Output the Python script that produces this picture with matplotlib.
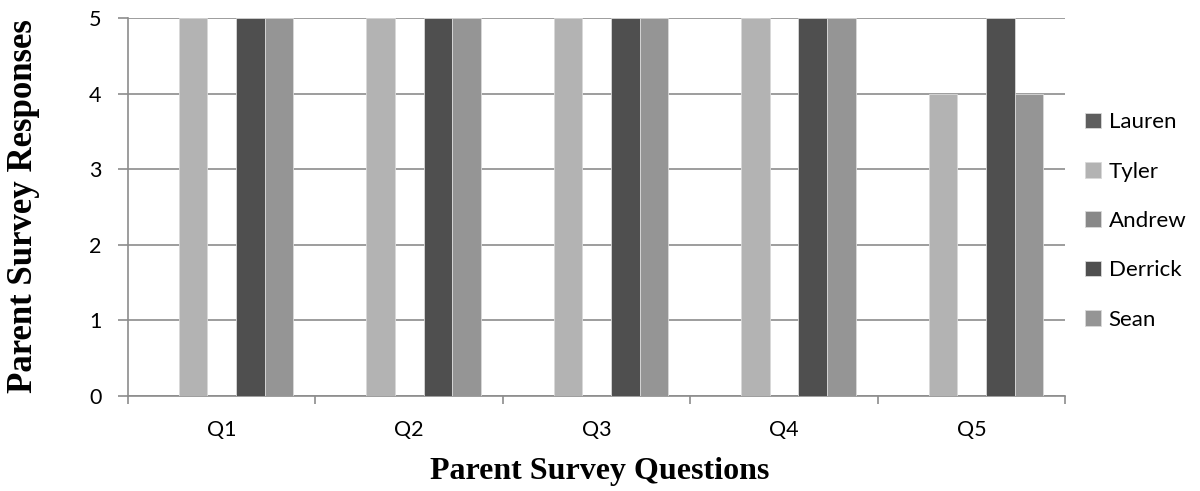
import numpy as np
import matplotlib
matplotlib.use("Agg")
import matplotlib.pyplot as plt
from matplotlib.ticker import FixedLocator, NullFormatter

questions = ["Q1", "Q2", "Q3", "Q4", "Q5"]
students = ["Lauren", "Tyler", "Andrew", "Derrick", "Sean"]
lauren = [0, 0, 0, 0, 0]
tyler = [5, 5, 5, 5, 4]
andrew = [0, 0, 0, 0, 0]
derrick = [5, 5, 5, 5, 5]
sean = [5, 5, 5, 5, 4]
colors = ["#5e5e5e", "#b3b3b3", "#888888", "#4f4f4f", "#959595"]

series = [lauren, tyler, andrew, derrick, sean]
SANS = "Lato"
SERIF = "Liberation Serif"
AXC = "#8c8c8c"

fig = plt.figure(figsize=(12, 4.91), dpi=100)
ax = fig.add_axes([0.1067, 0.1935, 0.781, 0.770])

x = np.arange(len(questions))
w = 0.153
for i, (name, vals, c) in enumerate(zip(students, series, colors)):
    ax.bar(x + (i - 2) * w, vals, width=w, color=c, label=name,
           edgecolor="#d9d9d9", lw=0.6, zorder=3)

ax.set_xlim(-0.5, len(questions) - 0.5)
ax.set_ylim(0, 5)
ax.set_yticks(range(6))
ax.yaxis.grid(True, color=AXC, lw=1.2, zorder=0)

ax.set_xticks(x)
ax.set_xticklabels(questions, fontsize=15.5, family=SANS)
ax.tick_params(axis="x", which="major", length=0, pad=17)
ax.xaxis.set_minor_locator(FixedLocator(np.arange(-0.5, len(questions), 1.0)))
ax.xaxis.set_minor_formatter(NullFormatter())
ax.tick_params(axis="x", which="minor", length=5.5, width=1.2, color=AXC)
ax.tick_params(axis="y", length=7, width=1.2, color=AXC, labelsize=15.5, pad=12)
for lbl in ax.get_yticklabels():
    lbl.set_family(SANS)

for s in ["top", "right"]:
    ax.spines[s].set_visible(False)
for s in ["left", "bottom"]:
    ax.spines[s].set_color(AXC)
    ax.spines[s].set_linewidth(1.2)

fig.text(0.5, 0.039, "Parent Survey Questions", fontsize=23, fontweight="bold",
         family=SERIF, ha="center", va="center")
fig.text(0.02, 0.58, "Parent Survey Responses", rotation=90, fontsize=25,
         fontweight="bold", family=SERIF, ha="center", va="center")

leg = ax.legend(loc="center left", bbox_to_anchor=(1.0, 0.463), frameon=False,
                prop={"family": SANS, "size": 16}, handlelength=0.7,
                handleheight=0.7, handletextpad=0.35, labelspacing=1.32)

fig.savefig("out.png", dpi=100)
